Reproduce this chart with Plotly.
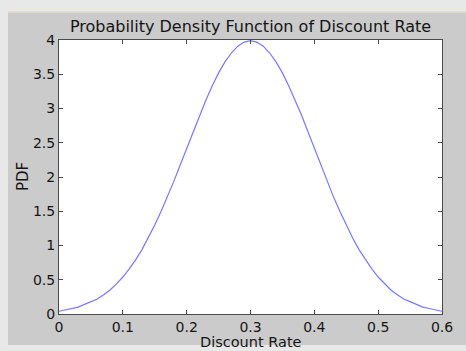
import plotly.graph_objects as go

# Discount rate grid and the density values
discount_rate = [0.00, 0.01, 0.02, 0.03, 0.04, 0.05, 0.06, 0.07, 0.08, 0.09,
                 0.10, 0.11, 0.12, 0.13, 0.14, 0.15, 0.16, 0.17, 0.18, 0.19,
                 0.20, 0.21, 0.22, 0.23, 0.24, 0.25, 0.26, 0.27, 0.28, 0.29,
                 0.30, 0.31, 0.32, 0.33, 0.34, 0.35, 0.36, 0.37, 0.38, 0.39,
                 0.40, 0.41, 0.42, 0.43, 0.44, 0.45, 0.46, 0.47, 0.48, 0.49,
                 0.50, 0.51, 0.52, 0.53, 0.54, 0.55, 0.56, 0.57, 0.58, 0.59,
                 0.60]
pdf_values = [0.04, 0.06, 0.08, 0.10, 0.14, 0.18, 0.22, 0.28, 0.35, 0.44,
              0.54, 0.66, 0.79, 0.94, 1.11, 1.30, 1.50, 1.71, 1.94, 2.18,
              2.42, 2.66, 2.90, 3.12, 3.33, 3.52, 3.68, 3.81, 3.91, 3.97,
              3.99, 3.97, 3.91, 3.81, 3.68, 3.52, 3.33, 3.12, 2.90, 2.66,
              2.42, 2.18, 1.94, 1.71, 1.50, 1.30, 1.11, 0.94, 0.79, 0.66,
              0.54, 0.44, 0.35, 0.28, 0.22, 0.18, 0.14, 0.10, 0.08, 0.06,
              0.04]

x_ticks = [0, 0.1, 0.2, 0.3, 0.4, 0.5, 0.6]
x_tick_text = ["0", "0.1", "0.2", "0.3", "0.4", "0.5", "0.6"]
y_ticks = [0, 0.5, 1, 1.5, 2, 2.5, 3, 3.5, 4]
y_tick_text = ["0", "0.5", "1", "1.5", "2", "2.5", "3", "3.5", "4"]

W, H = 466, 351
L, R, T, B = 59, 24, 40, 37
pw, ph = W - L - R, H - T - B

def px_x(p):
    return (p - L) / pw

def px_y(p):
    return (H - B - p) / ph

fig = go.Figure()
fig.add_trace(go.Scatter(
    x=discount_rate, y=pdf_values, mode="lines",
    line=dict(color="#7878ff", width=1.2), hoverinfo="skip", showlegend=False,
))

font = dict(family="DejaVu Sans, Arial, sans-serif", color="#151515")

fig.update_layout(
    width=W, height=H,
    margin=dict(l=L, r=R, t=T, b=B, autoexpand=False),
    paper_bgcolor="#e8e8e8",
    plot_bgcolor="white",
    font=font,
    title=dict(text="Probability Density Function of Discount Rate",
               x=0.5, xref="paper", y=1 - 26 / H, yref="container",
               xanchor="center", yanchor="middle",
               font=dict(size=16, **font)),
    shapes=[
        # grey figure panel
        dict(type="rect", xref="paper", yref="paper", layer="below",
             x0=px_x(8), x1=px_x(W + 2), y0=px_y(345), y1=px_y(12),
             fillcolor="#cbcbcb", line=dict(width=0)),
        dict(type="line", xref="paper", yref="paper", layer="below",
             x0=px_x(8), x1=px_x(W + 2), y0=px_y(12), y1=px_y(12),
             line=dict(color="#e2dccd", width=1.5)),
        # white axes area
        dict(type="rect", xref="paper", yref="paper", layer="below",
             x0=0, x1=1, y0=0, y1=1, fillcolor="white", line=dict(width=0)),
    ],
    annotations=[
        # axis titles
        dict(text="Discount Rate", xref="paper", yref="paper",
             x=0.5, y=px_y(342), xanchor="center", yanchor="middle",
             showarrow=False, borderpad=0, font=dict(size=14.5, **font)),
        dict(text="PDF", xref="paper", yref="paper", textangle=-90,
             x=px_x(23), y=0.5, xanchor="center", yanchor="middle",
             showarrow=False, borderpad=0, font=dict(size=15, **font)),
    ],
)

axis_common = dict(
    showgrid=False, zeroline=False, showline=True, linecolor="#4a4a4a",
    linewidth=1, mirror="ticks", ticks="inside", ticklen=4,
    tickcolor="#4a4a4a", tickfont=dict(size=14, **font), automargin=False,
)

fig.update_xaxes(range=[0, 0.6], tickvals=x_ticks, ticktext=x_tick_text,
                 ticklabelstandoff=0, **axis_common)
fig.update_yaxes(range=[0, 4], tickvals=y_ticks, ticktext=y_tick_text,
                 ticklabelstandoff=0, **axis_common)

fig.write_html("out.html")
